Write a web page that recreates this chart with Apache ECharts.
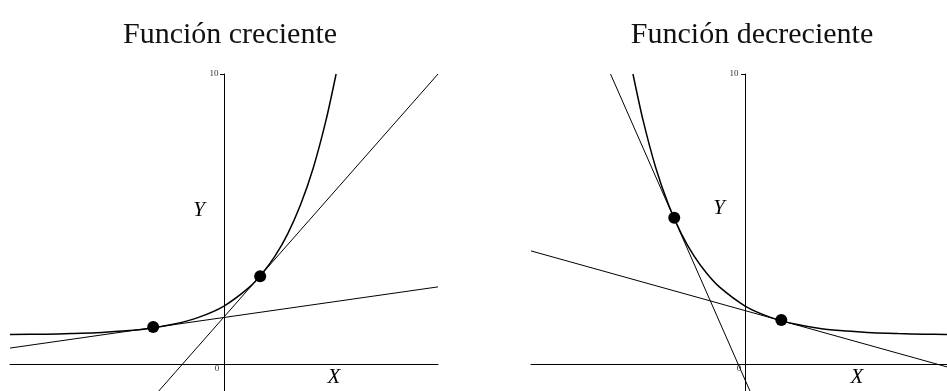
<!DOCTYPE html>
<html>
<head>
<meta charset="utf-8">
<script src="https://cdn.jsdelivr.net/npm/echarts@6/dist/echarts.min.js"></script>
<style>
  html, body { margin: 0; padding: 0; background: #fff; }
  #chart { width: 947px; height: 391px; }
</style>
</head>
<body>
<div id="chart"></div>
<script>
// panel titles
var titles = ['Función creciente', 'Función decreciente'];

// left panel: increasing curve
var upX = [-4.2, -3.5, -3, -2.5, -2, -1.5, -1, -0.5, 0, 0.5, 0.75, 1, 1.25, 1.5, 1.75, 2, 2.2];
var upY = [1.02, 1.03, 1.05, 1.08, 1.14, 1.22, 1.37, 1.61, 2.0, 2.65, 3.12, 3.72, 4.49, 5.48, 6.75, 8.39, 10.0];
var upTanA = [[-4.2, 0.55], [4.2, 2.66]];
var upTanB = [[-1.28, -0.93], [4.2, 10.0]];
var upDots = [[-1.39, 1.28], [0.71, 3.03]];

// right panel: decreasing curve
var downX = [-2.2, -2, -1.75, -1.5, -1.25, -1, -0.75, -0.5, 0, 0.5, 1, 1.5, 2, 2.5, 3, 3.5, 3.96];
var downY = [10.0, 8.39, 6.75, 5.48, 4.49, 3.72, 3.12, 2.65, 2.0, 1.61, 1.37, 1.22, 1.14, 1.08, 1.05, 1.03, 1.02];
var downTanA = [[-2.64, 10.0], [0.095, -0.93]];
var downTanB = [[-4.2, 3.9], [3.96, -0.10]];
var downDots = [[-1.39, 5.04], [0.71, 1.52]];

var yTicks = [10];

function zip(xs, ys) {
    var out = [];
    for (var i = 0; i < xs.length; i++) out.push([xs[i], ys[i]]);
    return out;
}

var serif = 'Liberation Serif';
var myChart = echarts.init(document.getElementById('chart'));

function xAx(idx, min, max) {
    return {
        type: 'value', gridIndex: idx, min: min, max: max,
        axisLine: { onZero: true, lineStyle: { color: '#000', width: 1 } },
        axisTick: { show: false }, axisLabel: { show: false }, splitLine: { show: false }
    };
}
function yAx(idx) {
    return {
        type: 'value', gridIndex: idx, min: -0.93, max: 10,
        axisLine: { onZero: true, lineStyle: { color: '#000', width: 1 } },
        axisTick: { show: true, customValues: yTicks, length: 4, lineStyle: { color: '#000' } },
        axisLabel: { show: false },
        splitLine: { show: false }
    };
}
function lineS(idx, data, w) {
    return {
        type: 'line', xAxisIndex: idx, yAxisIndex: idx, data: data,
        showSymbol: false, symbol: 'none', animation: false,
        lineStyle: { color: '#000', width: w }
    };
}
function dotS(idx, data) {
    return {
        type: 'scatter', xAxisIndex: idx, yAxisIndex: idx, data: data,
        symbolSize: 12, itemStyle: { color: '#000', opacity: 1 }, animation: false, z: 5
    };
}
function txt(x, y, s, size, italic, color) {
    return {
        type: 'text', x: x, y: y,
        style: { text: s, fill: color || '#000', font: (italic ? 'italic ' : '') + size + 'px "' + serif + '"',
                 align: 'center', verticalAlign: 'middle' }
    };
}

var upCurve = lineS(0, zip(upX, upY), 1.5);
upCurve.smooth = 0.3;
var downCurve = lineS(1, zip(downX, downY), 1.5);
downCurve.smooth = 0.3;

option = {
    animation: false,
    title: [
        { text: titles[0], left: 225, top: 15, textAlign: 'center',
          textStyle: { fontFamily: serif, fontWeight: 'normal', fontSize: 30, color: '#111' } },
        { text: titles[1], left: 747, top: 15, textAlign: 'center',
          textStyle: { fontFamily: serif, fontWeight: 'normal', fontSize: 30, color: '#111' } }
    ],
    grid: [
        { left: 10, width: 428, top: 74, bottom: 0 },
        { left: 531, right: 0, top: 74, bottom: 0 }
    ],
    xAxis: [xAx(0, -4.2, 4.2), xAx(1, -4.2, 3.96)],
    yAxis: [yAx(0), yAx(1)],
    series: [
        upCurve,
        lineS(0, upTanA, 1),
        lineS(0, upTanB, 1),
        dotS(0, upDots),
        downCurve,
        lineS(1, downTanA, 1),
        lineS(1, downTanB, 1),
        dotS(1, downDots)
    ],
    graphic: [
        txt(214, 74, '10', 9, false, '#333'),
        txt(199, 210, 'Y', 21, true),
        txt(334, 377, 'X', 21, true),
        txt(217, 369, '0', 9, false, '#333'),
        txt(734, 74, '10', 9, false, '#333'),
        txt(719, 208, 'Y', 21, true),
        txt(857, 377, 'X', 21, true),
        txt(739, 369, '0', 9, false, '#333')
    ]
};
myChart.setOption(option);
</script>
</body>
</html>
